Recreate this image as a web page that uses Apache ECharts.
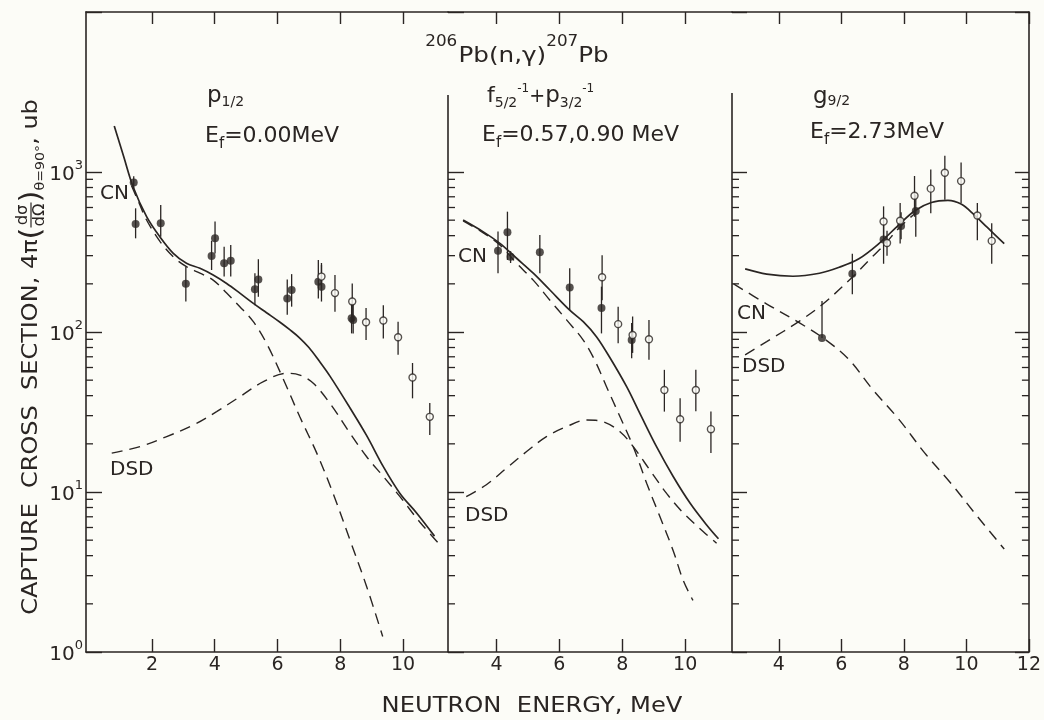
<!DOCTYPE html>
<html><head><meta charset="utf-8">
<script src="https://cdn.jsdelivr.net/npm/echarts@6/dist/echarts.min.js"></script>
<style>html,body{margin:0;padding:0;background:#fcfcf7}#c{width:1044px;height:720px}</style>
</head><body><div id="c"></div>
<script>
// ---------------- DATA ----------------
// x tick values (MeV) per panel
const xTicksP1 = [2, 4, 6, 8, 10];
const xTicksP2 = [4, 6, 8, 10];
const xTicksP3 = [4, 6, 8, 10, 12];
// y minor tick values (log axis, ub)
const yMinorTicks = [2,3,4,5,6,7,8,9,20,30,40,50,60,70,80,90,200,300,400,500,600,700,800,900];

// Panel 1: p1/2, Ef = 0.00 MeV  ([E, sigma])
const p1Total = [[0.80,1940],[1.10,1250],[1.40,809],[1.83,526],[2.25,394],[2.68,310],[3.10,269],[3.53,250],[3.95,227],[4.38,201],[4.80,175],[5.23,151],[5.65,132],[6.08,115],[6.40,103],[6.70,92],[7.00,80],[7.30,67],[7.67,53],[8.31,33.5],[8.84,22.5],[9.37,14.4],[9.90,9.8],[10.43,7.4],[11.00,5.3]];
const p1CN = [[1.35,820],[1.56,660],[1.83,501],[2.26,367],[2.68,295],[3.10,256],[3.53,233],[3.95,211],[4.38,175],[4.80,144],[5.23,116],[5.65,85],[6.18,51],[6.71,29.5],[7.25,17.5],[7.77,9.8],[8.31,5.0],[8.84,2.56],[9.35,1.25]];
const p1DSD = [[0.72,17.5],[1.62,19.2],[2.47,22.2],[3.32,26.2],[4.06,31.8],[4.80,39.4],[5.55,48.9],[6.29,55.2],[6.71,53.8],[7.14,47.8],[7.67,35.8],[8.31,23.3],[8.84,16.6],[9.37,12.5],[9.90,9.35],[10.53,6.5],[11.23,4.55]];
// [E, sigma, errLow, errHigh]
const p1Filled = [[1.42,860,790,940],[1.48,473,385,593],[2.28,478,394,622],[3.08,200,155,256],[3.90,299,244,372],[4.01,385,310,490],[4.30,269,222,341],[4.51,279,222,350],[5.28,185,147,233],[5.39,213,166,285],[6.31,162,128,213],[6.45,183,144,230],[7.30,206,162,282],[7.40,192,155,270],[8.36,122,98,151],[8.41,119,98,150]];
const p1Open = [[7.40,222,180,262],[7.83,175,134,227],[8.38,155,116,201],[8.82,115,89,141],[9.37,118,91,147],[9.84,92.7,72,116],[10.30,52,38.5,64],[10.85,29.5,22.7,36]];

// Panel 2: f5/2^-1 + p3/2^-1, Ef = 0.57, 0.90 MeV
const p2Total = [[2.94,501],[3.57,424],[4.11,358],[4.64,289],[5.17,233],[5.70,183],[6.33,137],[6.76,116],[7.18,93.5],[7.61,69],[8.14,45.5],[8.56,31],[9.09,19.2],[9.62,12.5],[10.16,8.5],[10.69,6.2],[11.06,5.1]];
const p2CN = [[2.94,495],[3.57,418],[4.11,350],[4.64,269],[5.17,211],[5.70,158],[6.23,119],[6.76,89],[7.12,67],[7.50,45.5],[7.93,29.5],[8.35,19.2],[8.78,11.3],[9.20,7.0],[9.62,4.3],[9.94,2.8],[10.25,2.1]];
const p2DSD = [[3.04,9.35],[3.68,11.1],[4.32,14.1],[4.96,17.9],[5.59,22.2],[6.23,25.6],[6.87,28.2],[7.39,27.5],[7.93,23.8],[8.35,19.2],[8.88,13.7],[9.41,9.8],[9.94,7.4],[10.58,5.65],[11.00,4.78]];
const p2Filled = [[4.05,322,233,424],[4.35,420,282,565],[4.45,295,270,320],[5.38,315,233,404],[6.33,190,137,250],[7.34,141,98,192],[8.30,89,68.5,114]];
const p2Open = [[7.36,220,158,302],[7.87,112,85,144],[8.33,95.7,74,125],[8.85,90,67,119],[9.34,43.4,31.8,58],[9.84,28.5,20.6,38.5],[10.34,43.4,32,58],[10.82,24.7,17.5,31.8]];

// Panel 3: g9/2, Ef = 2.73 MeV
const p3Total = [[2.92,248],[3.61,230],[4.45,223],[5.30,233],[5.93,254],[6.56,287],[7.20,357],[7.83,466],[8.36,575],[8.88,645],[9.41,665],[9.83,630],[10.25,540],[10.67,450],[11.21,357]];
const p3CN = [[2.55,200],[3.60,150],[4.66,114],[5.51,89],[6.25,67],[6.99,44],[7.83,28.6],[8.67,17.5],[9.51,11.3],[10.36,7.0],[11.21,4.4]];
const p3DSD = [[2.92,72],[3.61,87],[4.66,117],[5.40,149],[6.35,220],[6.98,294],[7.41,357],[7.83,444],[8.36,552]];
const p3Filled = [[5.38,91.6,91.6,156],[6.35,231,172,308],[7.35,379,267,470],[7.91,459,380,560],[8.38,571,394,721]];
const p3Open = [[7.35,490,390,610],[7.46,360,300,430],[7.88,496,357,640],[8.34,711,525,944],[8.86,787,552,1038],[9.31,990,671,1262],[9.83,877,640,1145],[10.35,535,375,640],[10.81,371,267,478]];

// ---------------- STYLE / LAYOUT ----------------
const INK = '#2a2523';
const BG = '#fcfcf7';
const FONT = 'DejaVu Sans';
const TOP = 12, BOT = 652;
const PANELS = [
  {left: 86,  right: 448,  xmin: -0.1, xmax: 11.43, ticks: xTicksP1},
  {left: 448, right: 732,  xmin: 2.46, xmax: 11.49, ticks: xTicksP2},
  {left: 732, right: 1032, xmin: 2.5,  xmax: 12,    ticks: xTicksP3}
];

const mc = document.createElement('canvas').getContext('2d');
function fnt(s){ return s + 'px "' + FONT + '"'; }
function tw(t, s){ mc.font = fnt(s); return mc.measureText(t).width; }
const BL = 0.32; // middle -> alphabetic baseline offset (em)
function textEl(x, y, t, s, align){
  return {type:'text', x:x, y:y, silent:true,
    style:{text:t, font:fnt(s), fill:INK, align:align||'left', verticalAlign:'middle', textAlign:align||'left', textVerticalAlign:'middle'}};
}
function runGroup(x, baseline, parts, anchor, sx){
  sx = sx || 1;
  let cx = 0; const els = [];
  parts.forEach(p => { const dy = p.dy || 0; els.push(textEl(cx + (p.dx||0), dy - BL*p.s, p.t, p.s)); cx += tw(p.t, p.s) + (p.dx||0); });
  const gx = anchor === 'center' ? x - cx*sx/2 : x;
  return {type:'group', x:gx, y:baseline, scaleX:sx, children:els, silent:true};
}
function yTitle(){
  const els = []; let x = 0;
  const add = (t, s, dy) => { els.push(textEl(x, dy - BL*s, t, s)); x += tw(t, s); };
  add('CAPTURE  CROSS  SECTION, 4π', 22, 0);
  add('(', 28, 4);
  const fw = Math.max(tw('dσ',15), tw('dΩ',15)) + 2;
  els.push(textEl(x + fw/2, -10 - BL*15, 'dσ', 15, 'center'));
  els.push({type:'line', silent:true, shape:{x1:x, y1:-7, x2:x+fw, y2:-7}, style:{stroke:INK, lineWidth:1.2}});
  els.push(textEl(x + fw/2, 7 - BL*15, 'dΩ', 15, 'center'));
  x += fw;
  add(')', 28, 4);
  add('θ=90°', 13, 7);
  add(', ub', 22, 0);
  const sc = 1.09;
  return {type:'group', x:38, y:357 + x*sc/2, rotation:Math.PI/2, scaleX:sc, children:els, silent:true};
}

const lineStyleAxis = {color: INK, width: 1.6};
const grid = PANELS.map(p => ({left:p.left, top:TOP, width:p.right - p.left, height:BOT - TOP}));
const xAxis = [];
PANELS.forEach((p, i) => {
  xAxis.push({type:'value', gridIndex:i, min:p.xmin, max:p.xmax, position:'bottom',
    axisLine:{show:true, onZero:false, lineStyle:lineStyleAxis},
    axisTick:{show:true, inside:true, length:13, customValues:p.ticks, lineStyle:{color:INK, width:1.4}},
    axisLabel:{show:true, customValues:p.ticks, margin:4, color:INK, fontSize:19, fontFamily:FONT},
    splitLine:{show:false}});
  xAxis.push({type:'value', gridIndex:i, min:p.xmin, max:p.xmax, position:'top',
    axisLine:{show:true, onZero:false, lineStyle:lineStyleAxis},
    axisTick:{show:true, inside:true, length:12, customValues:p.ticks, lineStyle:{color:INK, width:1.4}},
    axisLabel:{show:false}, splitLine:{show:false}});
});
function yAx(gi, pos, lineShow, labelShow, tickLen){
  return {type:'log', logBase:10, min:1, max:10000, gridIndex:gi, position:pos,
    axisLine:{show:lineShow, onZero:false, lineStyle:lineStyleAxis},
    axisTick:{show:true, inside:true, length:tickLen, lineStyle:{color:INK, width:1.4}},
    minorTick:{show:false}, splitLine:{show:false},
    axisLabel:{show:labelShow, margin:3,
      formatter: v => { const k = Math.round(Math.log10(v)); return k >= 4 ? '' : '{b|10}{s|' + k + '}'; },
      rich:{ b:{fontSize:20, fontFamily:FONT, color:INK, lineHeight:26, verticalAlign:'bottom'},
             s:{fontSize:13, fontFamily:FONT, color:INK, lineHeight:6, verticalAlign:'top'} } }};
}
const yAxis = [yAx(0,'left',true,true,16), yAx(1,'left',false,false,16), yAx(2,'left',false,false,15), yAx(2,'right',true,false,14)];

function lineS(data, xi, yi, dashed){
  return {type:'line', xAxisIndex:xi, yAxisIndex:yi, data:data, smooth:0.35, showSymbol:false, symbol:'none', silent:true, z:3,
    lineStyle:{color:INK, width: dashed ? 1.4 : 1.7, type: dashed ? [11,7] : 'solid'}};
}
function errS(pts, xi, yi){
  return {type:'custom', xAxisIndex:xi, yAxisIndex:yi, silent:true, z:4,
    data: pts.map(d => [d[0], d[2], d[3]]), encode:{x:0, y:[1,2]},
    renderItem:(params, api) => {
      const a = api.coord([api.value(0), api.value(1)]);
      const b = api.coord([api.value(0), api.value(2)]);
      return {type:'line', shape:{x1:a[0], y1:a[1], x2:b[0], y2:b[1]}, style:{stroke:INK, lineWidth:1.3}};
    }};
}
function ptS(pts, xi, yi, open){
  return {type:'scatter', xAxisIndex:xi, yAxisIndex:yi, silent:true, z:5,
    data: pts.map(d => [d[0], d[1]]), symbol:'circle', symbolSize: open ? 7 : 8,
    itemStyle: open ? {color:BG, borderColor:INK, borderWidth:1.4} : {color:INK}};
}
function minorS(xi, yi, xv, dir){
  return {type:'custom', xAxisIndex:xi, yAxisIndex:yi, silent:true, clip:false,
    data: yMinorTicks.map(v => [xv, v]), encode:{x:0, y:1},
    renderItem:(params, api) => {
      const c = api.coord([api.value(0), api.value(1)]);
      return {type:'line', shape:{x1:c[0], y1:c[1], x2:c[0] + dir*7, y2:c[1]}, style:{stroke:INK, lineWidth:1.3}};
    }};
}

const series = [
  minorS(0, 0, PANELS[0].xmin, 1),
  minorS(2, 1, PANELS[1].xmin, 1),
  minorS(4, 2, PANELS[2].xmin, 1),
  minorS(4, 3, PANELS[2].xmax, -1),
  lineS(p1Total, 0, 0, false), lineS(p1CN, 0, 0, true), lineS(p1DSD, 0, 0, true),
  errS(p1Filled, 0, 0), errS(p1Open, 0, 0), ptS(p1Filled, 0, 0, false), ptS(p1Open, 0, 0, true),
  lineS(p2Total, 2, 1, false), lineS(p2CN, 2, 1, true), lineS(p2DSD, 2, 1, true),
  errS(p2Filled, 2, 1), errS(p2Open, 2, 1), ptS(p2Filled, 2, 1, false), ptS(p2Open, 2, 1, true),
  lineS(p3Total, 4, 2, false), lineS(p3CN, 4, 2, true), lineS(p3DSD, 4, 2, true),
  errS(p3Filled, 4, 2), errS(p3Open, 4, 2), ptS(p3Filled, 4, 2, false), ptS(p3Open, 4, 2, true)
];

const graphic = [
  {type:'line', silent:true, shape:{x1:448, y1:95, x2:448, y2:BOT}, style:{stroke:INK, lineWidth:1.6}},
  {type:'line', silent:true, shape:{x1:732, y1:93, x2:732, y2:BOT}, style:{stroke:INK, lineWidth:1.6}},
  runGroup(517, 63, [{t:'206', s:15, dy:-16}, {t:'Pb(n,γ)', s:22, dx:1}, {t:'207', s:15, dy:-16}, {t:'Pb', s:22}], 'center', 1.12),
  runGroup(207, 103, [{t:'p', s:23}, {t:'1/2', s:14, dy:4}]),
  runGroup(205, 143, [{t:'E', s:22}, {t:'f', s:15, dy:6}, {t:'=0.00MeV', s:22}]),
  runGroup(487, 103, [{t:'f', s:22}, {t:'5/2', s:14, dy:5}, {t:'-1', s:12, dy:-10}, {t:'+', s:19}, {t:'p', s:23}, {t:'3/2', s:14, dy:5}, {t:'-1', s:12, dy:-10}]),
  runGroup(482, 142, [{t:'E', s:22}, {t:'f', s:15, dy:6}, {t:'=0.57,0.90 MeV', s:22}]),
  runGroup(813, 104, [{t:'g', s:23}, {t:'9/2', s:14, dy:2}]),
  runGroup(810, 139, [{t:'E', s:22}, {t:'f', s:15, dy:6}, {t:'=2.73MeV', s:22}]),
  runGroup(100, 200, [{t:'CN', s:20}]),
  runGroup(110, 476, [{t:'DSD', s:20}]),
  runGroup(458, 263, [{t:'CN', s:20}]),
  runGroup(465, 522, [{t:'DSD', s:20}]),
  runGroup(737, 320, [{t:'CN', s:20}]),
  runGroup(742, 373, [{t:'DSD', s:20}]),
  runGroup(532, 713, [{t:'NEUTRON  ENERGY, MeV', s:22}], 'center', 1.1),
  yTitle()
];

const chart = echarts.init(document.getElementById('c'), null, {renderer:'canvas'});
chart.setOption({
  backgroundColor: BG,
  animation: false,
  grid: grid, xAxis: xAxis, yAxis: yAxis, series: series, graphic: graphic
});
</script>
</body></html>
